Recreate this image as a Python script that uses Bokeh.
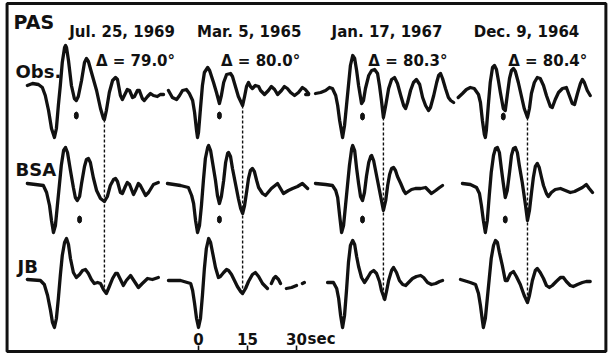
import numpy as np
from bokeh.plotting import figure
from bokeh.models import Range1d
from bokeh.embed import file_html
from bokeh.resources import INLINE
from bokeh.core.properties import value

NAN = float("nan")

# ---------------------------------------------------------------- data
STATION = "PAS"
EVENTS = ["Jul. 25, 1969", "Mar. 5, 1965", "Jan. 17, 1967", "Dec. 9, 1964"]
DISTANCES = ["\u0394 = 79.0\u00b0", "\u0394 = 80.0\u00b0", "\u0394 = 80.3\u00b0", "\u0394 = 80.4\u00b0"]
ROW_LABELS = ["Obs.", "BSA", "JB"]
SCALE_TICKS = [0, 15, 30]
SCALE_LABELS = ["0", "15", "30"]
SCALE_UNIT = "sec"

# (time s relative to first JB trough, amplitude arbitrary units)
OBS_1969 = [(-8.3,0.3),(-6.7,0.5),(-4.9,0.4),(-3.7,0.1),(-2.8,-0.7),(-1.8,-2.2),(-0.9,-4.0),(0.0,-4.9),(0.6,-4.0),(1.2,-1.7),(1.8,0.3),(2.4,2.6),(3.1,4.1),(3.4,4.3),(3.7,4.1),(4.3,2.8),(5.2,0.3),(6.1,-1.0),(6.7,-1.2),(7.3,-0.8),(8.3,0.8),(9.2,2.6),(9.8,3.0),(10.4,2.7),(11.6,1.3),(12.9,-0.2),(14.1,-2.0),(15.0,-3.0),(15.3,-3.1),(15.9,-2.2),(16.8,-0.4),(17.8,0.8),(18.7,1.1),(19.3,0.9),(20.2,-0.7),(20.8,-1.1),(21.4,-0.7),(22.3,-0.1),(23.0,-0.2),(23.9,-0.9),(24.5,-0.8),(25.4,-0.2),(26.0,-0.2),(26.9,-1.0),(27.5,-1.2),(28.5,-0.8),(29.4,-0.5),(30.3,-0.7),(31.5,-0.8),(32.4,-0.6),(33.4,-0.6)]
BSA_1969 = [(-8.3,0.1),(-5.8,0.0),(-3.4,-0.1),(-2.4,-0.8),(-1.5,-2.1),(-0.9,-3.6),(-0.3,-4.8),(0.3,-4.1),(0.9,-2.1),(1.5,-0.1),(2.1,1.9),(2.8,3.4),(3.4,3.7),(4.0,3.2),(4.9,1.4),(5.8,-0.3),(6.4,-1.3),(7.0,-1.6),(7.7,-1.2),(8.3,0.1),(9.2,1.8),(9.8,2.5),(10.4,2.6),(11.0,2.2),(11.9,0.7),(12.9,-0.6),(14.1,-1.4),(15.3,-1.7),(16.2,-1.2),(17.1,-0.1),(18.1,0.5),(18.7,0.6),(19.3,0.3),(20.2,-0.8),(20.8,-0.9),(21.7,-0.2),(22.3,0.2),(23.0,0.0),(24.2,-1.0),(24.8,-0.6),(25.7,0.1),(26.3,-0.1),(27.9,-1.1),(28.8,-0.8),(30.3,0.0),(31.8,0.2)]
JB_1969 = [(-8.3,0.1),(-4.3,0.0),(-3.1,-0.4),(-2.1,-1.5),(-1.2,-3.0),(-0.6,-4.2),(0.0,-4.7),(0.6,-3.8),(1.2,-1.8),(1.8,0.5),(2.4,2.5),(3.1,3.8),(3.7,4.2),(4.3,3.6),(4.9,2.2),(5.8,0.8),(6.7,0.3),(7.7,0.6),(8.6,1.0),(9.5,1.1),(10.4,0.7),(11.3,0.1),(12.2,-0.3),(13.2,-0.2),(14.1,-0.3),(15.0,-0.9),(15.9,-1.3),(16.8,-0.6),(17.8,0.2),(18.7,0.7),(19.3,0.7),(20.2,0.1),(21.1,-0.5),(22.0,0.0),(23.3,0.5),(24.5,-0.1),(25.7,-0.7),(26.9,-0.3),(28.5,0.2),(30.0,0.1),(31.8,0.3)]

OBS_1965 = [(-9.2,-0.2),(-8.0,-0.9),(-6.7,-1.1),(-5.8,-0.7),(-4.9,-0.2),(-3.7,-0.1),(-2.8,-0.5),(-1.8,-1.2),(-1.2,-2.4),(-0.6,-4.2),(-0.3,-4.9),(0.0,-4.4),(0.6,-2.0),(1.2,0.3),(1.8,1.6),(2.8,2.1),(3.4,1.8),(4.0,1.2),(4.6,0.6),(5.5,-0.4),(6.4,-1.5),(7.0,-0.7),(7.7,0.6),(8.6,1.4),(9.8,1.5),(10.4,1.2),(11.3,0.2),(12.2,-0.8),(13.5,-1.7),(14.1,-0.8),(14.7,0.2),(15.3,0.6),(15.9,0.2),(16.5,0.0),(17.4,0.3),(18.4,0.2),(19.0,-0.2),(20.2,-0.6),(21.4,-0.2),(22.3,0.2),(23.3,-0.1),(24.2,-0.6),(25.4,-0.2),(26.3,0.2),(27.2,0.0),(28.2,-0.4),(29.4,-0.7),(30.6,-0.4),(31.8,0.1),(32.7,-0.1),(33.7,-0.5)]
BSA_1965 = [(-9.5,0.1),(-5.5,-0.1),(-3.1,-0.3),(-2.1,-1.1),(-1.5,-1.9),(-0.9,-3.6),(-0.3,-4.8),(0.3,-4.1),(0.9,-2.1),(1.5,0.4),(2.1,2.6),(2.8,3.7),(3.1,3.9),(3.7,3.4),(4.3,2.2),(5.2,0.4),(5.8,-1.1),(6.4,-1.9),(7.0,-1.2),(7.7,0.4),(8.3,2.2),(8.9,3.1),(9.2,3.2),(9.8,2.8),(10.4,1.6),(11.3,0.1),(12.2,-1.4),(12.9,-2.4),(13.5,-2.9),(14.1,-2.1),(14.7,-0.8),(15.3,0.6),(15.9,1.4),(16.5,1.6),(17.1,1.3),(17.8,0.4),(18.4,-0.3),(19.6,-0.9),(20.5,-1.1),(22.3,-0.4),(24.2,0.1),(26.0,-0.9),(27.5,-0.6),(28.8,-0.4),(30.3,-0.2),(31.8,0.1),(33.4,-0.4)]
JB_1965 = [(-9.2,0.0),(-5.5,0.0),(-2.4,-0.3),(-1.8,-1.0),(-1.2,-2.3),(-0.6,-3.8),(0.0,-4.7),(0.6,-3.8),(1.2,-1.5),(1.8,1.2),(2.4,3.2),(3.1,4.2),(3.7,3.8),(4.3,2.8),(5.2,1.3),(6.1,0.3),(6.7,0.4),(7.7,0.8),(8.6,1.1),(9.2,1.0),(10.1,0.6),(11.0,0.0),(11.9,-0.6),(12.9,-1.1),(13.5,-1.3),(14.4,-0.8),(15.3,-0.1),(16.5,0.6),(17.4,0.8),(18.4,0.4),(19.6,-0.3),(20.5,-0.6),(21.1,-0.8),(NAN,NAN),(22.3,-0.3),(23.0,0.2),(23.6,0.4),(24.5,0.1),(25.1,-0.3),(NAN,NAN),(26.9,-0.8),(28.5,-0.7),(30.0,-0.5),(NAN,NAN),(31.8,-0.3),(32.4,-0.2)]

OBS_1967 = [(-11.3,-0.6),(-10.4,-0.6),(NAN,NAN),(-8.3,-0.5),(-6.7,-0.4),(-5.2,-0.2),(-4.0,0.1),(-3.1,0.0),(-2.1,-0.7),(-1.5,-1.7),(-0.9,-3.2),(0.0,-4.9),(0.6,-3.7),(1.2,-1.7),(1.8,0.3),(2.4,2.3),(3.1,3.3),(3.7,3.0),(4.3,1.8),(4.9,0.3),(5.8,-1.5),(6.4,-1.2),(7.0,0.0),(8.0,1.3),(8.9,1.8),(9.8,1.9),(10.7,1.5),(11.3,0.3),(11.9,-1.2),(12.5,-2.9),(13.2,-1.7),(14.1,0.0),(15.0,0.9),(15.9,1.1),(16.8,0.5),(17.8,-0.7),(18.7,-1.7),(19.3,-2.0),(19.9,-1.4),(20.8,-0.2),(21.7,0.6),(22.6,0.9),(23.6,0.4),(24.5,-0.9),(25.4,-1.7),(26.3,-2.2),(26.9,-1.9),(27.9,-0.7),(28.8,0.6),(29.4,1.3),(30.0,1.5),(30.6,1.0),(31.5,0.0),(32.4,-0.9),(33.1,-1.2),(34.0,-1.4)]
BSA_1967 = [(-8.3,0.1),(-5.2,0.0),(-3.1,-0.1),(-2.1,-0.6),(-1.5,-1.3),(-0.9,-3.1),(-0.3,-4.8),(0.3,-4.1),(0.9,-2.1),(1.5,-0.1),(2.1,1.9),(2.8,3.6),(3.1,3.9),(3.7,3.4),(4.3,1.6),(4.9,0.1),(5.5,-1.2),(6.1,-1.6),(6.7,-0.8),(7.3,0.8),(8.0,2.2),(8.6,2.8),(8.9,2.9),(9.5,2.4),(10.1,1.4),(10.7,0.4),(11.6,-1.1),(12.5,-2.6),(13.2,-1.6),(13.8,-0.1),(14.4,1.0),(15.0,1.6),(15.6,1.7),(16.2,1.4),(16.8,0.8),(17.8,0.1),(18.7,-0.6),(19.3,-0.9),(20.2,-0.7),(21.1,-0.5),(22.3,-0.4),(23.9,-0.4),(25.4,-0.3),(26.3,-0.6),(27.2,-0.9),(28.5,-0.6),(29.7,-0.3),(30.6,-0.1)]
JB_1967 = [(-4.6,-0.2),(-2.8,-0.2),(-1.8,-0.8),(-1.2,-1.8),(-0.6,-3.5),(0.0,-4.7),(0.6,-3.5),(1.2,-1.0),(1.8,1.8),(2.4,3.5),(3.1,4.0),(3.7,3.6),(4.3,2.4),(4.9,1.4),(5.8,0.3),(6.7,-0.2),(7.7,0.3),(8.6,0.8),(9.5,1.0),(10.4,0.7),(11.3,-0.1),(11.9,-1.0),(12.9,-1.9),(13.5,-1.0),(14.1,0.0),(15.0,1.0),(15.6,1.3),(16.5,0.8),(17.4,0.0),(18.4,-0.4),(19.3,-0.5),(20.2,-0.2),(21.4,0.2),(22.6,0.4),(23.9,0.5),(24.8,0.3),(26.0,-0.2),(27.2,-0.4),(28.5,-0.3),(29.7,-0.1),(30.6,0.0)]

OBS_1964 = [(-7.7,-0.9),(-6.4,-0.5),(-5.2,-0.1),(-4.0,0.1),(-2.8,0.0),(-1.5,-0.6),(-0.9,-1.4),(-0.3,-3.2),(0.3,-4.6),(0.6,-4.9),(0.9,-4.2),(1.5,-1.7),(2.1,0.6),(2.8,2.1),(3.4,2.3),(4.0,1.9),(4.6,0.8),(5.2,-0.4),(6.1,-2.0),(6.7,-2.2),(7.3,-0.7),(8.0,1.0),(8.6,1.8),(9.2,2.0),(9.8,1.7),(10.7,0.6),(11.6,-0.7),(12.5,-2.0),(13.5,-2.9),(14.1,-2.0),(14.7,-0.5),(15.6,0.6),(16.5,1.1),(17.4,1.0),(18.4,0.3),(19.3,-0.7),(20.5,-1.8),(21.1,-1.9),(22.0,-1.1),(23.0,-0.4),(24.2,0.0),(25.4,0.1),(26.3,-0.7),(27.2,-1.5),(27.9,-1.6),(28.8,-0.5),(29.7,0.5),(30.3,0.9),(30.9,0.6),(31.8,-0.2),(32.7,-0.7)]
BSA_1964 = [(-6.4,0.1),(-4.0,0.0),(-2.1,-0.3),(-1.2,-0.9),(-0.6,-2.1),(0.0,-3.6),(0.6,-4.8),(1.2,-3.6),(1.8,-1.1),(2.4,1.2),(3.1,2.9),(3.7,3.6),(4.3,3.7),(4.9,3.2),(5.5,1.6),(6.1,0.1),(6.7,-1.3),(7.3,-0.6),(8.0,1.2),(8.6,2.9),(9.2,3.6),(9.8,3.7),(10.4,3.2),(11.0,1.9),(11.9,0.2),(12.9,-2.1),(13.5,-3.6),(14.1,-2.6),(14.7,-0.9),(15.3,0.7),(15.9,1.8),(16.5,2.1),(17.1,1.7),(17.8,0.7),(18.4,-0.1),(19.3,-0.9),(19.9,-1.2),(20.8,-0.8),(22.0,-0.5),(23.6,-0.4),(25.1,-0.6),(26.6,-0.8),(27.9,-0.7),(29.1,-0.5),(30.3,-0.3),(31.5,0.0),(32.4,-0.4),(33.4,-0.8)]
JB_1964 = [(-7.0,0.1),(-4.0,-0.2),(-2.4,-0.4),(-1.5,-1.3),(-0.9,-2.5),(-0.3,-4.0),(0.0,-4.7),(0.6,-3.8),(1.2,-1.8),(1.8,0.2),(2.4,2.2),(3.1,3.5),(3.7,4.0),(4.3,3.8),(4.9,2.8),(5.8,1.5),(6.7,0.0),(7.3,0.0),(8.3,0.7),(9.2,0.9),(10.1,0.4),(11.3,-0.4),(12.5,-1.5),(13.5,-2.2),(14.1,-1.5),(15.0,0.0),(15.9,1.0),(16.5,1.2),(17.4,0.8),(18.4,0.2),(19.3,-0.5),(20.2,-0.7),(21.1,-0.5),(22.3,-0.1),(23.6,0.3),(24.5,0.3),(25.4,-0.1),(26.6,-0.5),(27.5,-0.6),(28.8,-0.4),(30.3,-0.2),(31.5,-0.1),(32.7,-0.1)]

# marked arrivals: small dots (Obs, BSA) and the dashed phase line
DOT_OBS_T = [6.7, 6.4, 6.1, 6.1]
DOT_OBS_A = [-2.7, -2.7, -2.8, -2.8]
DOT_BSA_T = [7.7, 6.4, 6.1, 6.7]
DOT_BSA_A = [-3.5, -3.5, -3.5, -3.5]
PHASE_T = [15.3, 13.5, 12.5, 13.5]
PHASE_OBS_A = [-3.1, -1.7, -2.9, -2.9]
PHASE_JB_A = [-1.0, -1.3, -1.9, -2.2]

# ---------------------------------------------------------------- layout
TRACES = [
    [OBS_1969, BSA_1969, JB_1969],
    [OBS_1965, BSA_1965, JB_1965],
    [OBS_1967, BSA_1967, JB_1967],
    [OBS_1964, BSA_1964, JB_1964],
]
COL_OFFSET = [-44.1, 0.0, 44.1, 87.2]      # seconds on the common time axis
ROW_OFFSET = [0.0, -9.6, -19.2]             # amplitude units
X_RANGE = (-60.61, 126.11)
Y_RANGE = (-26.7, 8.8)
FRAME = dict(left=-58.6, right=124.7, top=8.5, bottom=-26.3)
FONT = value("DejaVu Sans")
INK = "#111111"

p = figure(width=610, height=355, output_backend="svg", toolbar_location=None,
           x_range=Range1d(*X_RANGE), y_range=Range1d(*Y_RANGE),
           x_axis_type=None, y_axis_type=None, min_border=0,
           background_fill_color="white", border_fill_color="white")
p.outline_line_color = None
p.grid.visible = False

# frame
p.quad(left=[FRAME["left"]], right=[FRAME["right"]], top=[FRAME["top"]], bottom=[FRAME["bottom"]],
       fill_color=None, line_color=INK, line_width=3)

# dashed phase lines
for c in range(4):
    x = PHASE_T[c] + COL_OFFSET[c]
    p.line([x, x], [ROW_OFFSET[0] + PHASE_OBS_A[c], ROW_OFFSET[2] + PHASE_JB_A[c]],
           line_color=INK, line_width=1.4, line_dash="3 2")

# traces
for c, col in enumerate(TRACES):
    for r, tr in enumerate(col):
        t = np.array([q[0] for q in tr], dtype=float) + COL_OFFSET[c]
        a = np.array([q[1] for q in tr], dtype=float) + ROW_OFFSET[r]
        p.line(t, a, line_color=INK, line_width=3.3, line_join="round", line_cap="round")

# arrival dots
dx = [DOT_OBS_T[c] + COL_OFFSET[c] for c in range(4)] + [DOT_BSA_T[c] + COL_OFFSET[c] for c in range(4)]
dy = [DOT_OBS_A[c] + ROW_OFFSET[0] for c in range(4)] + [DOT_BSA_A[c] + ROW_OFFSET[1] for c in range(4)]
p.ellipse(x=dx, y=dy, width=4, height=7, width_units="screen", height_units="screen",
          fill_color=INK, line_color=INK)

# texts
DATE_X = [-23.4, 15.5, 57.7, 100.4]
DIST_X = [-19.3, 19.0, 64.1, 106.9]
p.text(x=DATE_X, y=[5.63] * 4, text=EVENTS, text_font=FONT, text_font_style="bold",
       text_font_size="15px", text_align="center", text_baseline="alphabetic", text_color=INK)
p.text(x=DIST_X, y=[2.73] * 4, text=DISTANCES, text_font=FONT, text_font_style="bold",
       text_font_size="15px", text_align="center", text_baseline="alphabetic", text_color=INK)
p.text(x=[-56.6], y=[6.7], text=[STATION], text_font=FONT, text_font_style="bold",
       text_font_size="19px", text_align="left", text_baseline="alphabetic", text_color=INK)
ROW_LABEL_DY = [1.66, 1.46, 1.36]
p.text(x=[-56.0, -56.0, -55.4], y=[ROW_OFFSET[r] + ROW_LABEL_DY[r] for r in range(3)], text=ROW_LABELS,
       text_font=FONT, text_font_style="bold", text_font_size="18px",
       text_align="left", text_baseline="alphabetic", text_color=INK)

# time scale at the bottom
for tk in SCALE_TICKS:
    p.line([tk, tk], [FRAME["bottom"], FRAME["bottom"] + 0.6], line_color=INK, line_width=1.6)
p.text(x=SCALE_TICKS, y=[-25.07] * 3, text=SCALE_LABELS, text_font=FONT, text_font_style="bold",
       text_font_size="15px", text_align="center", text_baseline="alphabetic", text_color=INK)
p.text(x=[SCALE_TICKS[-1] + 3.4], y=[-25.07], text=[SCALE_UNIT], text_font=FONT, text_font_style="bold",
       text_font_size="15px", text_align="left", text_baseline="alphabetic", text_color=INK)

open("out.html", "w").write(file_html(p, INLINE))
